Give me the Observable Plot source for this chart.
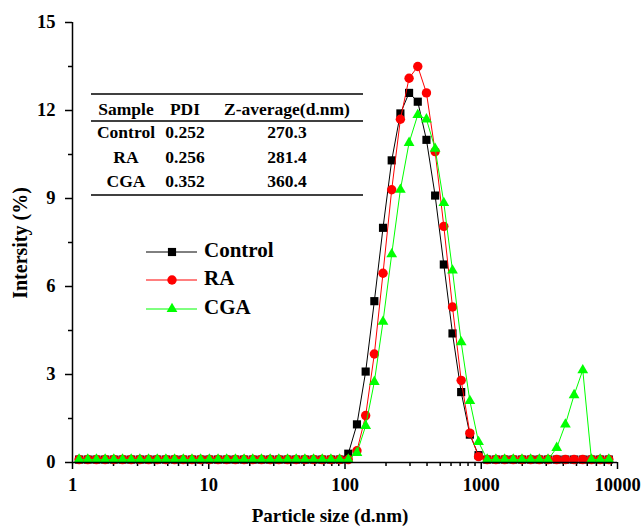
<!DOCTYPE html>
<html>
<head>
<meta charset="utf-8">
<script src="https://cdn.jsdelivr.net/npm/d3@7"></script>
<script src="https://cdn.jsdelivr.net/npm/@observablehq/plot@0.6"></script>
<style>
  html, body { margin: 0; padding: 0; background: #ffffff; }
  #chart { width: 644px; height: 530px; }
</style>
</head>
<body>
<div id="chart"></div>
<script>
// Size classes (d.nm) of the intensity distribution
const sizes = [1.117, 1.294, 1.499, 1.736, 2.010, 2.328, 2.696, 3.122, 3.615, 4.187,
  4.849, 5.615, 6.503, 7.531, 8.721, 10.10, 11.70, 13.54, 15.69, 18.17,
  21.04, 24.36, 28.21, 32.67, 37.84, 43.82, 50.75, 58.77, 68.06, 78.82,
  91.28, 105.7, 122.4, 141.8, 164.2, 190.1, 220.2, 255.0, 295.3, 342.0,
  396.1, 458.7, 531.2, 615.1, 712.4, 825.0, 955.4, 1106, 1281, 1484,
  1718, 1990, 2305, 2669, 3091, 3580, 4145, 4801, 5560, 6439,
  7456, 8635];

// Intensity (%) per size class
const control = [0.1, 0.1, 0.1, 0.1, 0.1, 0.1, 0.1, 0.1, 0.1, 0.1,
  0.1, 0.1, 0.1, 0.1, 0.1, 0.1, 0.1, 0.1, 0.1, 0.1,
  0.1, 0.1, 0.1, 0.1, 0.1, 0.1, 0.1, 0.1, 0.1, 0.1,
  0.1, 0.3, 1.3, 3.1, 5.5, 8.0, 10.3, 11.9, 12.6, 12.3,
  11.0, 9.1, 6.75, 4.4, 2.4, 0.95, 0.25, 0.1, 0.1, 0.1,
  0.1, 0.1, 0.1, 0.1, 0.1, 0.1, 0.1, 0.1, 0.1, 0.1,
  0.1, 0.1];
const ra = [0.1, 0.1, 0.1, 0.1, 0.1, 0.1, 0.1, 0.1, 0.1, 0.1,
  0.1, 0.1, 0.1, 0.1, 0.1, 0.1, 0.1, 0.1, 0.1, 0.1,
  0.1, 0.1, 0.1, 0.1, 0.1, 0.1, 0.1, 0.1, 0.1, 0.1,
  0.1, 0.1, 0.4, 1.6, 3.7, 6.45, 9.3, 11.7, 13.1, 13.5,
  12.6, 10.6, 8.05, 5.3, 2.8, 1.0, 0.2, 0.1, 0.1, 0.1,
  0.1, 0.1, 0.1, 0.1, 0.1, 0.1, 0.1, 0.1, 0.1, 0.1,
  0.1, 0.1];
const cga = [0.1, 0.1, 0.1, 0.1, 0.1, 0.1, 0.1, 0.1, 0.1, 0.1,
  0.1, 0.1, 0.1, 0.1, 0.1, 0.1, 0.1, 0.1, 0.1, 0.1,
  0.1, 0.1, 0.1, 0.1, 0.1, 0.1, 0.1, 0.1, 0.1, 0.1,
  0.1, 0.1, 0.33, 1.25, 2.75, 4.8, 7.1, 9.3, 10.9, 11.85,
  11.7, 10.7, 8.85, 6.55, 4.1, 2.1, 0.7, 0.1, 0.1, 0.1,
  0.1, 0.1, 0.1, 0.1, 0.1, 0.5, 1.3, 2.3, 3.15, 0.1,
  0.1, 0.1];

const seriesNames = ["Control", "RA", "CGA"];
const seriesValues = [control, ra, cga];
const seriesColors = ["#000000", "#ff0000", "#00ff00"];
const seriesSymbols = ["square", "circle", "triangle"];

// Summary table
const tableHeader = ["Sample", "PDI", "Z-average(d.nm)"];
const pdi = [0.252, 0.256, 0.352];
const zAverage = [270.3, 281.4, 360.4];

const xTicks = [1, 10, 100, 1000, 10000];
const yTicks = [0, 3, 6, 9, 12, 15];

const font = "'Liberation Serif', 'Times New Roman', serif";
const symbolRadius = {square: 4.6, circle: 4.7, triangle: 4.0};

// Log-decade minor ticks and half-step y minor ticks
const xMinor = [];
for (const d of xTicks.slice(0, -1)) for (let k = 2; k < 10; k++) xMinor.push(d * k);
const yMinor = yTicks.slice(0, -1).map((v, i) => (v + yTicks[i + 1]) / 2);

const rows = [];
seriesNames.forEach((name, s) => {
  sizes.forEach((size, i) => rows.push({series: name, size, value: seriesValues[s][i]}));
});

const seriesMarks = seriesNames.flatMap((name, s) => {
  const data = rows.filter(d => d.series === name);
  return [
    Plot.line(data, {x: "size", y: "value", stroke: seriesColors[s], strokeWidth: 1}),
    Plot.dot(data, {x: "size", y: "value", fill: seriesColors[s], stroke: "none",
      symbol: () => seriesSymbols[s], r: symbolRadius[seriesSymbols[s]]})
  ];
});

const chart = Plot.plot({
  width: 644,
  height: 530,
  marginLeft: 72,
  marginRight: 27,
  marginTop: 22,
  marginBottom: 68,
  style: {fontFamily: font, fontWeight: "bold", fontSize: "18px", color: "#000", background: "#fff"},
  x: {type: "log", domain: [1, 10000]},
  y: {domain: [0, 15]},
  symbol: {domain: seriesSymbols, range: seriesSymbols},
  marks: [
    Plot.axisX(xTicks, {tickSize: 7, tickPadding: 8, tickFormat: d => String(d), label: null,
      fontSize: 18.5, fontWeight: "bold", strokeWidth: 1.5}),
    Plot.axisX(xMinor, {tickSize: 4, tickFormat: () => "", label: null, strokeWidth: 1.5}),
    Plot.axisY(yTicks, {tickSize: 7, tickPadding: 10, tickFormat: d => String(d), label: null,
      fontSize: 18.5, fontWeight: "bold", strokeWidth: 1.5}),
    Plot.axisY(yMinor, {tickSize: 4, tickFormat: () => "", label: null, strokeWidth: 1.5}),
    ...seriesMarks,
    Plot.ruleY([0], {stroke: "#000", strokeWidth: 1.5}),
    Plot.ruleX([1], {y1: 0, y2: 15, stroke: "#000", strokeWidth: 1.5})
  ]
});

const svg = d3.select(chart);

// Axis titles
svg.append("text")
  .attr("x", 330).attr("y", 518)
  .attr("text-anchor", "middle").attr("dominant-baseline", "middle")
  .style("font", `bold 19px ${font}`)
  .text("Particle size (d.nm)");
svg.append("text")
  .attr("transform", "translate(22,243) rotate(-90)")
  .attr("text-anchor", "middle").attr("dominant-baseline", "middle")
  .style("font", `bold 20px ${font}`)
  .text("Intersity (%)");

// Summary table (three-line style)
const table = svg.append("g").style("font", `bold 17.5px ${font}`).attr("fill", "#000");
const colX = [126, 185, 287];
[94, 121, 195].forEach(y => table.append("line")
  .attr("x1", 91).attr("x2", 363).attr("y1", y).attr("y2", y)
  .attr("stroke", "#000").attr("stroke-width", 1.5));
tableHeader.forEach((h, j) => table.append("text")
  .attr("x", colX[j]).attr("y", 111).attr("text-anchor", "middle")
  .attr("dominant-baseline", "middle").text(h));
const rowY = [134, 159, 183];
seriesNames.forEach((name, i) => {
  [name, pdi[i].toFixed(3), zAverage[i].toFixed(1)].forEach((v, j) => table.append("text")
    .attr("x", colX[j]).attr("y", rowY[i]).attr("text-anchor", "middle")
    .attr("dominant-baseline", "middle").text(v));
});

// Legend
const symbolTypes = {square: d3.symbolSquare, circle: d3.symbolCircle, triangle: d3.symbolTriangle};
const legendY = [252, 280, 309];
const legend = svg.append("g");
seriesNames.forEach((name, i) => {
  const y = legendY[i];
  const sym = seriesSymbols[i];
  legend.append("line").attr("x1", 146).attr("x2", 197).attr("y1", y).attr("y2", y)
    .attr("stroke", seriesColors[i]).attr("stroke-width", 1);
  legend.append("path")
    .attr("d", d3.symbol(symbolTypes[sym], Math.PI * symbolRadius[sym] ** 2)())
    .attr("transform", `translate(172,${y})`).attr("fill", seriesColors[i]);
  legend.append("text").attr("x", 204).attr("y", y)
    .attr("text-anchor", "start").attr("dominant-baseline", "middle")
    .style("font", `bold 21px ${font}`).text(name);
});

document.getElementById("chart").appendChild(chart);
</script>
</body>
</html>
